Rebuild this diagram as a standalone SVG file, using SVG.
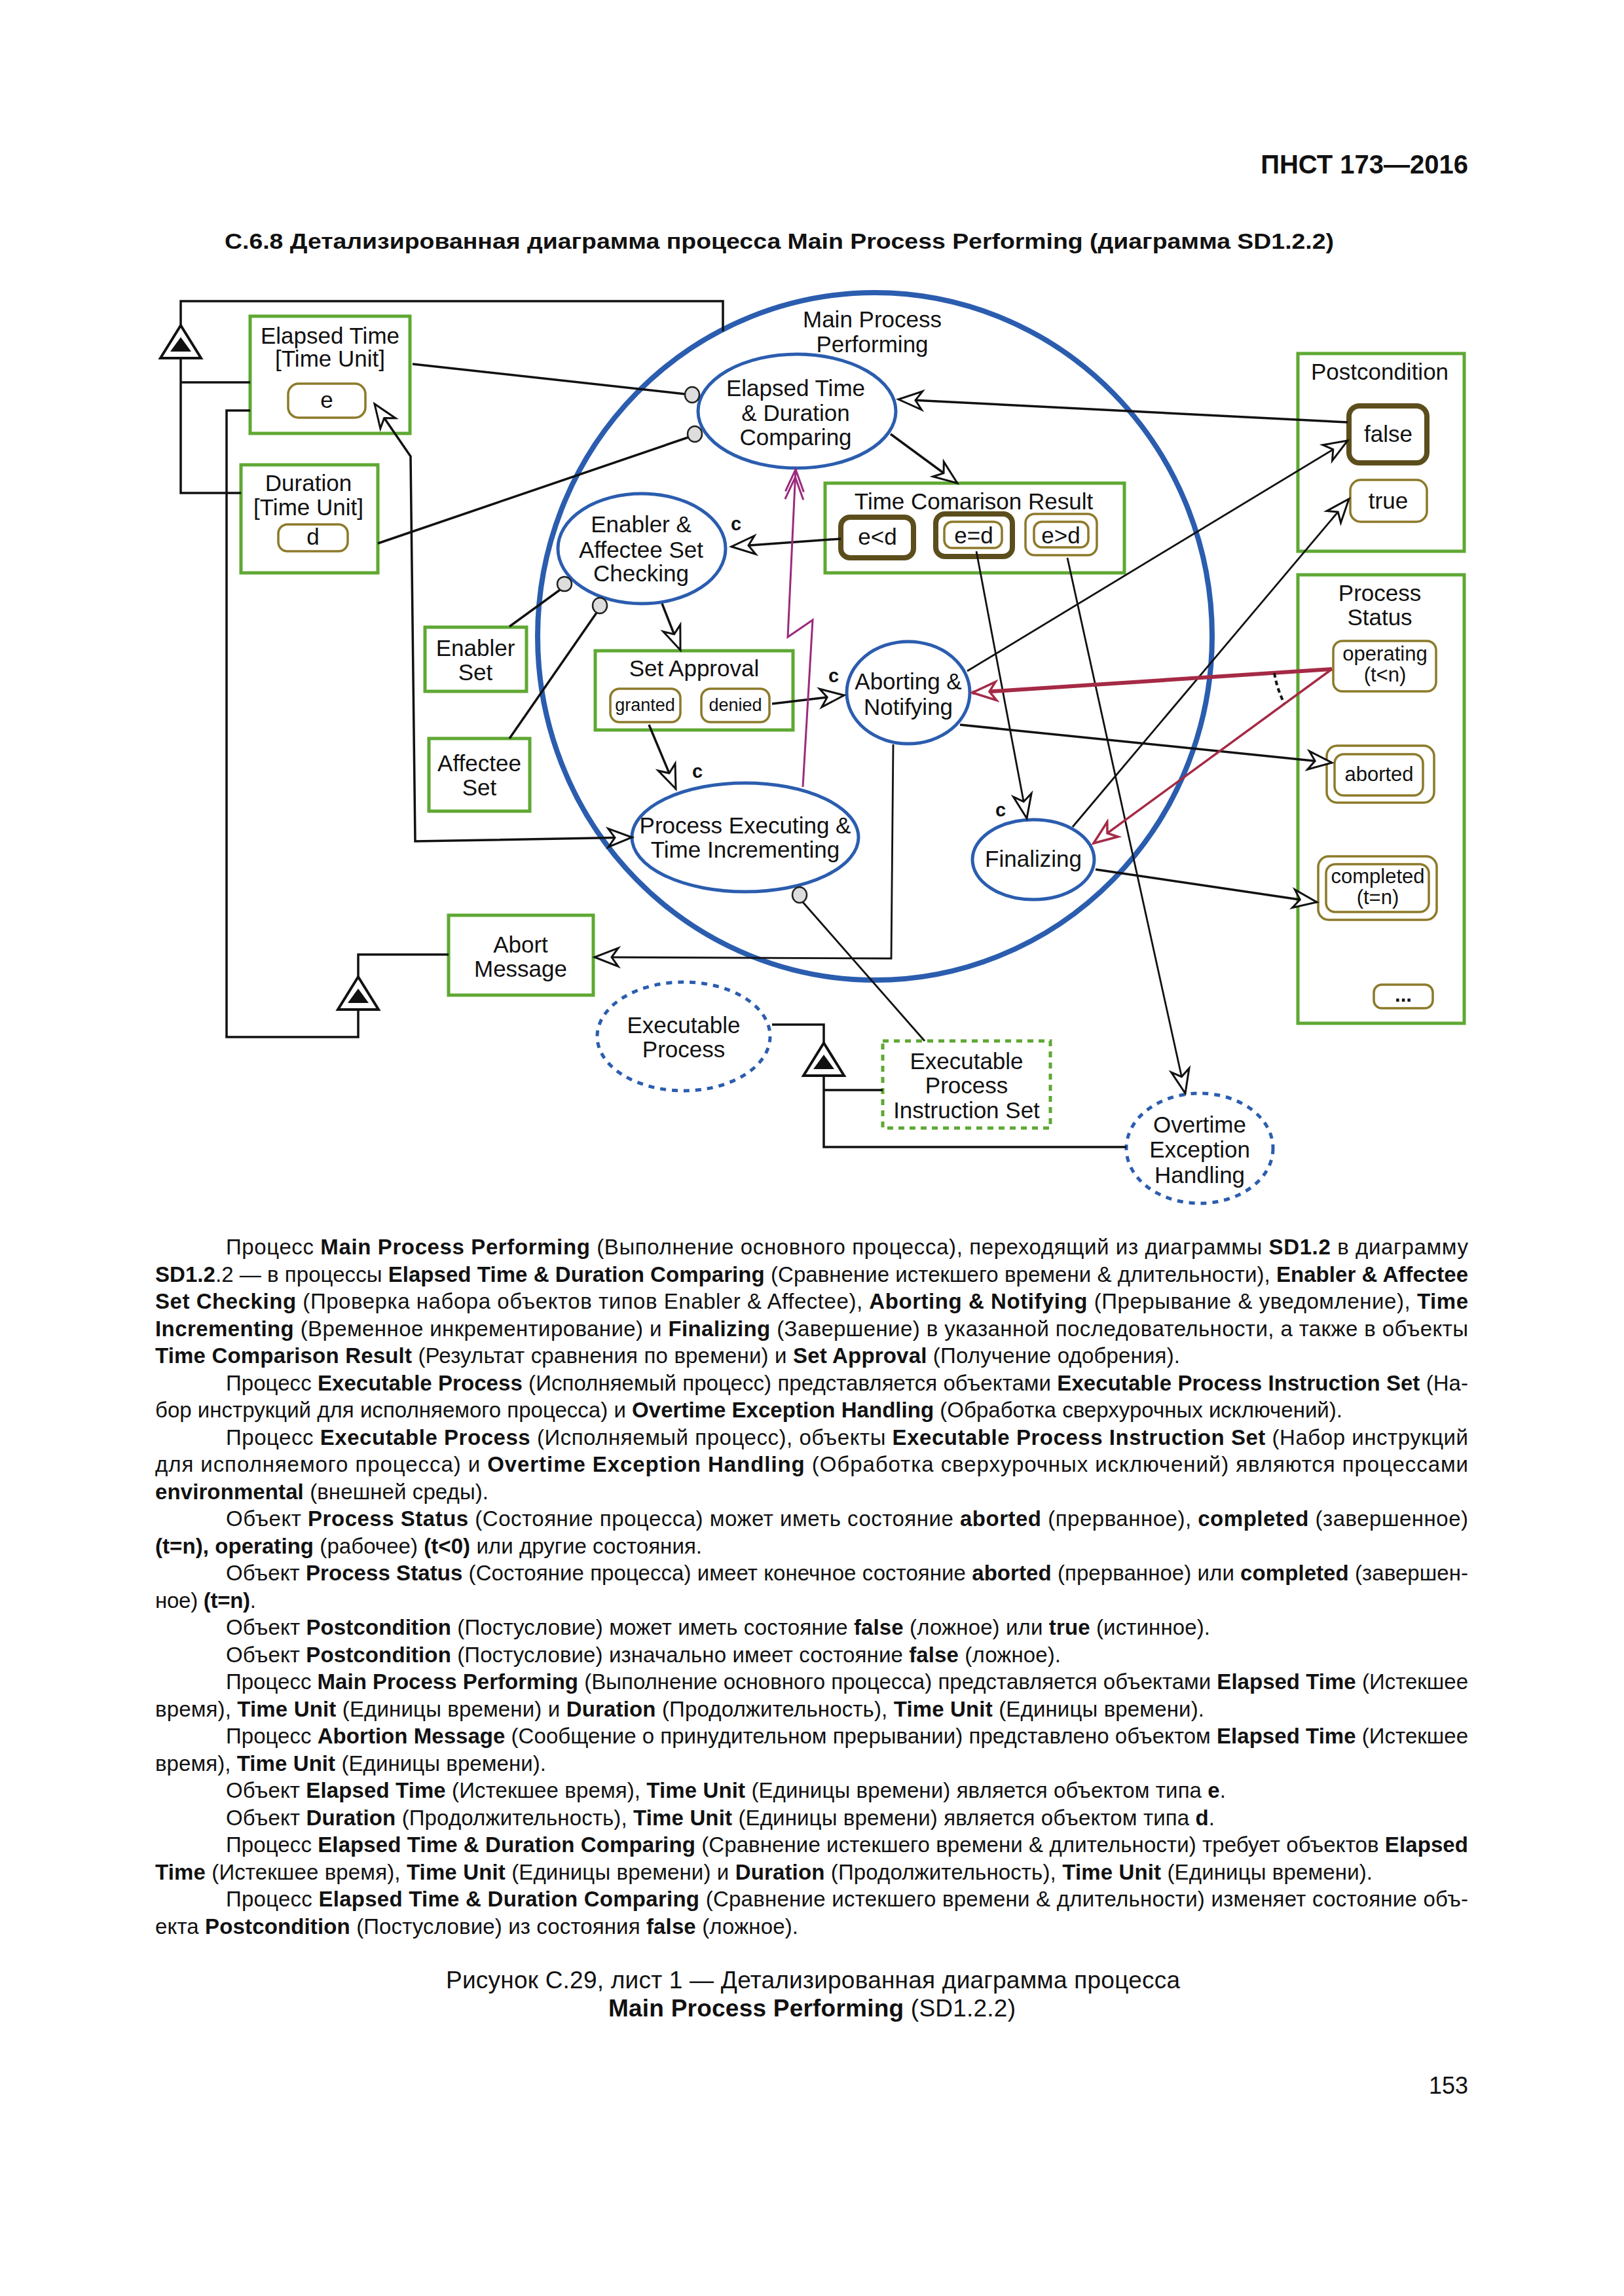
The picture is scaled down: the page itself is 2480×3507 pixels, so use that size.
<svg xmlns="http://www.w3.org/2000/svg" width="2480" height="3507" viewBox="0 0 2480 3507">
<style>
text{font-family:"Liberation Sans",Arial,sans-serif;fill:#111}
.lb{font-size:35px;text-anchor:middle}
.sl{font-size:31px;text-anchor:middle}
.sm{font-size:27px;text-anchor:middle}
.cc{font-size:29px;font-weight:bold;text-anchor:middle}
.b{font-weight:bold}
.body{font-size:33px}
.g{fill:#fff;stroke:#5ea833;stroke-width:5}
.gd{fill:#fff;stroke:#5ea833;stroke-width:5;stroke-dasharray:9 8}
.st{fill:#fff;stroke:#8c7a2a;stroke-width:3.5}
.stk{fill:#fff;stroke:#5c4e1c;stroke-width:8}
.el{fill:#fff;stroke:#2b5daf;stroke-width:5}
.eld{fill:#fff;stroke:#2b5daf;stroke-width:5;stroke-dasharray:9 9}
.ln{fill:none;stroke:#111;stroke-width:3.5}
.lt{fill:none;stroke:#111;stroke-width:2.8}
.cr{fill:none;stroke:#a52a45}
.cn{fill:#ddd;stroke:#222;stroke-width:2.5}
.tri{fill:#fff;stroke:#111;stroke-width:4;stroke-linejoin:miter}
</style>
<defs>
<marker id="ao" viewBox="-40 -20 44 40" refX="0" refY="0" markerWidth="44" markerHeight="40" markerUnits="userSpaceOnUse" orient="auto-start-reverse">
<path d="M0,0 L-36,-14 L-26,0 L-36,14 Z" fill="#fff" stroke="#111" stroke-width="3"/>
</marker>
<marker id="ac" viewBox="-40 -20 44 40" refX="0" refY="0" markerWidth="44" markerHeight="40" markerUnits="userSpaceOnUse" orient="auto">
<path d="M0,0 L-36,-14 L-26,0 L-36,14 Z" fill="#fff" stroke="#a52a45" stroke-width="3.5"/>
</marker>
<marker id="ap" viewBox="-50 -20 54 40" refX="0" refY="0" markerWidth="54" markerHeight="40" markerUnits="userSpaceOnUse" orient="auto">
<path d="M-34,-14 L0,0 L-34,14 M-46,-14 L-12,0 L-46,14" fill="none" stroke="#9b2a7d" stroke-width="3"/>
</marker>
</defs>
<rect width="2480" height="3507" fill="#fff"/>

<g id="header">
<text x="2242" y="265" class="b" font-size="40" text-anchor="end">ПНСТ 173—2016</text>
<text x="343" y="380" class="b" font-size="33" textLength="1694" lengthAdjust="spacingAndGlyphs">С.6.8 Детализированная диаграмма процесса Main Process Performing (диаграмма SD1.2.2)</text>
</g>

<g id="main-process-performing">
<ellipse cx="1336" cy="972" rx="515" ry="525" fill="#fff" stroke="#2b5daf" stroke-width="8"/>
<text class="lb" x="1332" y="500">Main Process</text>
<text class="lb" x="1332" y="538">Performing</text>
</g>

<g id="elapsed-time">
<rect class="g" x="382" y="483" width="244" height="179"/>
<text class="lb" x="504" y="525">Elapsed Time</text>
<text class="lb" x="504" y="560">[Time Unit]</text>
<rect class="st" x="440" y="586" width="118" height="52" rx="16"/>
<text class="lb" x="499" y="623">e</text>
</g>

<g id="duration">
<rect class="g" x="368" y="710" width="209" height="165"/>
<text class="lb" x="471" y="750">Duration</text>
<text class="lb" x="471" y="787">[Time Unit]</text>
<rect class="st" x="425" y="801" width="106" height="41" rx="14"/>
<text class="lb" x="478" y="832">d</text>
</g>

<g id="elapsed-duration-comparing">
<ellipse class="el" cx="1217" cy="628" rx="151" ry="87"/>
<text class="lb" x="1215" y="605">Elapsed Time</text>
<text class="lb" x="1215" y="643">&amp; Duration</text>
<text class="lb" x="1215" y="680">Comparing</text>
</g>

<g id="postcondition">
<rect class="g" x="1982" y="540" width="254" height="302"/>
<text class="lb" x="2107" y="580">Postcondition</text>
<rect class="stk" x="2060" y="620" width="119" height="87" rx="16"/>
<text class="lb" x="2120" y="675" font-size="34">false</text>
<rect class="st" x="2062" y="733" width="117" height="64" rx="16"/>
<text class="lb" x="2120" y="777" font-size="34">true</text>
</g>

<g id="time-comparison-result">
<rect class="g" x="1260" y="738" width="457" height="137"/>
<text class="lb" x="1487" y="778">Time Comarison Result</text>
<rect class="stk" x="1284" y="790" width="111" height="62" rx="14"/>
<text class="lb" x="1340" y="832" font-size="34">e&lt;d</text>
<rect class="stk" x="1429" y="785" width="117" height="65" rx="14"/>
<rect class="st" x="1442" y="797" width="88" height="40" rx="12"/>
<text class="lb" x="1487" y="830" font-size="34">e=d</text>
<rect class="st" x="1566" y="785" width="109" height="63" rx="14"/>
<rect class="st" x="1579" y="797" width="83" height="39" rx="12"/>
<text class="lb" x="1620" y="830" font-size="34">e&gt;d</text>
</g>

<g id="enabler-affectee-checking">
<ellipse class="el" cx="980" cy="838" rx="128" ry="84"/>
<text class="lb" x="979" y="813">Enabler &amp;</text>
<text class="lb" x="979" y="852">Affectee Set</text>
<text class="lb" x="979" y="888">Checking</text>
</g>

<g id="enabler-set">
<rect class="g" x="649" y="958" width="155" height="98"/>
<text class="lb" x="726" y="1002">Enabler</text>
<text class="lb" x="726" y="1039">Set</text>
</g>

<g id="affectee-set">
<rect class="g" x="655" y="1128" width="154" height="111"/>
<text class="lb" x="732" y="1178">Affectee</text>
<text class="lb" x="732" y="1215">Set</text>
</g>

<g id="set-approval">
<rect class="g" x="909" y="994" width="302" height="121"/>
<text class="lb" x="1060" y="1033">Set Approval</text>
<rect class="st" x="932" y="1052" width="107" height="51" rx="14"/>
<text class="sm" x="985" y="1086">granted</text>
<rect class="st" x="1071" y="1052" width="104" height="51" rx="14"/>
<text class="sm" x="1123" y="1086">denied</text>
</g>

<g id="aborting-notifying">
<ellipse class="el" cx="1387" cy="1058" rx="94" ry="78"/>
<text class="lb" x="1387" y="1053">Aborting &amp;</text>
<text class="lb" x="1387" y="1092">Notifying</text>
</g>

<g id="process-executing">
<ellipse class="el" cx="1138" cy="1279" rx="173" ry="83"/>
<text class="lb" x="1138" y="1273">Process Executing &amp;</text>
<text class="lb" x="1138" y="1310">Time Incrementing</text>
</g>

<g id="finalizing">
<ellipse class="el" cx="1578" cy="1313" rx="93" ry="61"/>
<text class="lb" x="1578" y="1324">Finalizing</text>
</g>

<g id="process-status">
<rect class="g" x="1982" y="878" width="254" height="685"/>
<text class="lb" x="2107" y="918">Process</text>
<text class="lb" x="2107" y="955">Status</text>
<rect class="st" x="2036" y="979" width="157" height="77" rx="14"/>
<text class="sl" x="2115" y="1009" font-size="30">operating</text>
<text class="sl" x="2115" y="1041" font-size="30">(t&lt;n)</text>
<rect class="st" x="2026" y="1139" width="164" height="87" rx="16"/>
<rect class="st" x="2038" y="1152" width="135" height="63" rx="14"/>
<text class="sl" x="2106" y="1193">aborted</text>
<rect class="st" x="2013" y="1308" width="181" height="97" rx="16"/>
<rect class="st" x="2025" y="1320" width="157" height="73" rx="14"/>
<text class="sl" x="2104" y="1349">completed</text>
<text class="sl" x="2104" y="1381">(t=n)</text>
<rect class="st" x="2098" y="1504" width="90" height="36" rx="12"/>
<text class="sl b" x="2143" y="1530">...</text>
</g>

<g id="abort-message">
<rect class="g" x="685" y="1398" width="221" height="122"/>
<text class="lb" x="795" y="1455">Abort</text>
<text class="lb" x="795" y="1492">Message</text>
</g>

<g id="executable-process">
<ellipse class="eld" cx="1044" cy="1583" rx="132" ry="83"/>
<text class="lb" x="1044" y="1578">Executable</text>
<text class="lb" x="1044" y="1615">Process</text>
</g>

<g id="executable-process-instruction-set">
<rect class="gd" x="1348" y="1590" width="256" height="133"/>
<text class="lb" x="1476" y="1633">Executable</text>
<text class="lb" x="1476" y="1670">Process</text>
<text class="lb" x="1476" y="1708">Instruction Set</text>
</g>

<g id="overtime-exception-handling">
<ellipse class="eld" cx="1832" cy="1754" rx="112" ry="84"/>
<text class="lb" x="1832" y="1730">Overtime</text>
<text class="lb" x="1832" y="1768">Exception</text>
<text class="lb" x="1832" y="1807">Handling</text>
</g>

<g id="connectors">
<path class="ln" d="M276,497 V460 H1104 V506"/>
<path class="ln" d="M276,547 V753 H368 M276,584 H382"/>
<path class="ln" d="M382,627 H346 V1584 H547 V1542"/>
<path class="ln" d="M547,1492 V1458 H685"/>
<path class="ln" d="M1179,1565 H1258 V1593"/>
<path class="ln" d="M1258,1643 V1752 H1720 M1258,1665 H1348"/>
<path class="ln" d="M630,556 L1047,602"/>
<path class="ln" d="M577,830 L1051,668"/>
<path class="ln" d="M778,957 L855,901"/>
<path class="ln" d="M778,1128 L911,936"/>
<path class="lt" d="M1226,1378 L1412,1590"/>
<path class="ln" d="M572,617 L627,697 L634,1285 L965,1279" marker-start="url(#ao)" marker-end="url(#ao)"/>
<path class="ln" d="M2058,645 L1372,610" marker-end="url(#ao)"/>
<path class="ln" d="M1360,663 L1462,738" marker-end="url(#ao)"/>
<path class="ln" d="M1284,823 L1117,835" marker-end="url(#ao)"/>
<path class="ln" d="M1011,922 L1039,993" marker-end="url(#ao)"/>
<path class="ln" d="M1179,1075 L1289,1062" marker-end="url(#ao)"/>
<path class="ln" d="M991,1107 L1032,1205" marker-end="url(#ao)"/>
<path class="lt" d="M1491,842 L1568,1250" marker-end="url(#ao)"/>
<path class="lt" d="M1630,852 L1810,1670" marker-end="url(#ao)"/>
<path class="lt" d="M1477,1025 L2058,673" marker-end="url(#ao)"/>
<path class="lt" d="M1638,1263 L2060,762" marker-end="url(#ao)"/>
<path class="ln" d="M1466,1107 L2034,1165" marker-end="url(#ao)"/>
<path class="ln" d="M1673,1328 L2011,1378" marker-end="url(#ao)"/>
<path class="lt" d="M1364,1137 L1361,1464 L908,1462" marker-end="url(#ao)"/>
<path d="M1226,1202 L1241,947 L1203,973 L1215,717" fill="none" stroke="#9b2a7d" stroke-width="3" marker-end="url(#ap)"/>
<path class="cr" stroke-width="6" d="M2034,1022 L1485,1058" marker-end="url(#ac)"/>
<path class="cr" stroke-width="3.5" d="M2034,1022 L1670,1288" marker-end="url(#ac)"/>
<path d="M1946,1028 Q1950,1052 1961,1074" fill="none" stroke="#111" stroke-width="4" stroke-dasharray="7 5"/>
<ellipse class="cn" cx="1057" cy="603" rx="11" ry="12"/>
<ellipse class="cn" cx="1061" cy="663" rx="11" ry="12"/>
<ellipse class="cn" cx="862" cy="892" rx="11" ry="11"/>
<ellipse class="cn" cx="916" cy="925" rx="11" ry="12"/>
<ellipse class="cn" cx="1221" cy="1367" rx="11" ry="12"/>
<path class="tri" d="M276,497 L307,547 L245,547 Z"/><path d="M276,515 L292,537 L260,537 Z" fill="#111"/>
<path class="tri" d="M547,1492 L578,1542 L516,1542 Z"/><path d="M547,1510 L563,1532 L531,1532 Z" fill="#111"/>
<path class="tri" d="M1258,1593 L1289,1643 L1227,1643 Z"/><path d="M1258,1611 L1274,1633 L1242,1633 Z" fill="#111"/>
<text class="cc" x="1124" y="810">c</text>
<text class="cc" x="1273" y="1042">c</text>
<text class="cc" x="1065" y="1188">c</text>
<text class="cc" x="1528" y="1247">c</text>
</g>

<g id="body-text" class="body">
<text x="345" y="1916" textLength="1897" lengthAdjust="spacing">Процесс <tspan class="b">Main Process Performing</tspan> (Выполнение основного процесса), переходящий из диаграммы <tspan class="b">SD1.2</tspan> в диаграмму</text>
<text x="237" y="1957.5" textLength="2005" lengthAdjust="spacing"><tspan class="b">SD1.2</tspan>.2 — в процессы <tspan class="b">Elapsed Time &amp; Duration Comparing</tspan> (Сравнение истекшего времени &amp; длительности), <tspan class="b">Enabler &amp; Affectee</tspan></text>
<text x="237" y="1999" textLength="2005" lengthAdjust="spacing"><tspan class="b">Set Checking</tspan> (Проверка набора объектов типов Enabler &amp; Affectee), <tspan class="b">Aborting &amp; Notifying</tspan> (Прерывание &amp; уведомление), <tspan class="b">Time</tspan></text>
<text x="237" y="2040.5" textLength="2005" lengthAdjust="spacing"><tspan class="b">Incrementing</tspan> (Временное инкрементирование) и <tspan class="b">Finalizing</tspan> (Завершение) в указанной последовательности, а также в объекты</text>
<text x="237" y="2082" textLength="1565" lengthAdjust="spacing"><tspan class="b">Time Comparison Result</tspan> (Результат сравнения по времени) и <tspan class="b">Set Approval</tspan> (Получение одобрения).</text>
<text x="345" y="2123.5" textLength="1897" lengthAdjust="spacing">Процесс <tspan class="b">Executable Process</tspan> (Исполняемый процесс) представляется объектами <tspan class="b">Executable Process Instruction Set</tspan> (На-</text>
<text x="237" y="2165" textLength="1813" lengthAdjust="spacing">бор инструкций для исполняемого процесса) и <tspan class="b">Overtime Exception Handling</tspan> (Обработка сверхурочных исключений).</text>
<text x="345" y="2206.5" textLength="1897" lengthAdjust="spacing">Процесс <tspan class="b">Executable Process</tspan> (Исполняемый процесс), объекты <tspan class="b">Executable Process Instruction Set</tspan> (Набор инструкций</text>
<text x="237" y="2248" textLength="2005" lengthAdjust="spacing">для исполняемого процесса) и <tspan class="b">Overtime Exception Handling</tspan> (Обработка сверхурочных исключений) являются процессами</text>
<text x="237" y="2289.5" textLength="509" lengthAdjust="spacing"><tspan class="b">environmental</tspan> (внешней среды).</text>
<text x="345" y="2331" textLength="1897" lengthAdjust="spacing">Объект <tspan class="b">Process Status</tspan> (Состояние процесса) может иметь состояние <tspan class="b">aborted</tspan> (прерванное), <tspan class="b">completed</tspan> (завершенное)</text>
<text x="237" y="2372.5" textLength="835" lengthAdjust="spacing"><tspan class="b">(t=n), operating</tspan> (рабочее) <tspan class="b">(t&lt;0)</tspan> или другие состояния.</text>
<text x="345" y="2414" textLength="1897" lengthAdjust="spacing">Объект <tspan class="b">Process Status</tspan> (Состояние процесса) имеет конечное состояние <tspan class="b">aborted</tspan> (прерванное) или <tspan class="b">completed</tspan> (завершен-</text>
<text x="237" y="2455.5" textLength="154" lengthAdjust="spacing">ное) <tspan class="b">(t=n)</tspan>.</text>
<text x="345" y="2497" textLength="1503" lengthAdjust="spacing">Объект <tspan class="b">Postcondition</tspan> (Постусловие) может иметь состояние <tspan class="b">false</tspan> (ложное) или <tspan class="b">true</tspan> (истинное).</text>
<text x="345" y="2538.5" textLength="1275" lengthAdjust="spacing">Объект <tspan class="b">Postcondition</tspan> (Постусловие) изначально имеет состояние <tspan class="b">false</tspan> (ложное).</text>
<text x="345" y="2580" textLength="1897" lengthAdjust="spacing">Процесс <tspan class="b">Main Process Performing</tspan> (Выполнение основного процесса) представляется объектами <tspan class="b">Elapsed Time</tspan> (Истекшее</text>
<text x="237" y="2621.5" textLength="1602" lengthAdjust="spacing">время), <tspan class="b">Time Unit</tspan> (Единицы времени) и <tspan class="b">Duration</tspan> (Продолжительность), <tspan class="b">Time Unit</tspan> (Единицы времени).</text>
<text x="345" y="2663" textLength="1897" lengthAdjust="spacing">Процесс <tspan class="b">Abortion Message</tspan> (Сообщение о принудительном прерывании) представлено объектом <tspan class="b">Elapsed Time</tspan> (Истекшее</text>
<text x="237" y="2704.5" textLength="597" lengthAdjust="spacing">время), <tspan class="b">Time Unit</tspan> (Единицы времени).</text>
<text x="345" y="2746" textLength="1527" lengthAdjust="spacing">Объект <tspan class="b">Elapsed Time</tspan> (Истекшее время), <tspan class="b">Time Unit</tspan> (Единицы времени) является объектом типа <tspan class="b">e</tspan>.</text>
<text x="345" y="2787.5" textLength="1510" lengthAdjust="spacing">Объект <tspan class="b">Duration</tspan> (Продолжительность), <tspan class="b">Time Unit</tspan> (Единицы времени) является объектом типа <tspan class="b">d</tspan>.</text>
<text x="345" y="2829" textLength="1897" lengthAdjust="spacing">Процесс <tspan class="b">Elapsed Time &amp; Duration Comparing</tspan> (Сравнение истекшего времени &amp; длительности) требует объектов <tspan class="b">Elapsed</tspan></text>
<text x="237" y="2870.5" textLength="1859" lengthAdjust="spacing"><tspan class="b">Time</tspan> (Истекшее время), <tspan class="b">Time Unit</tspan> (Единицы времени) и <tspan class="b">Duration</tspan> (Продолжительность), <tspan class="b">Time Unit</tspan> (Единицы времени).</text>
<text x="345" y="2912" textLength="1897" lengthAdjust="spacing">Процесс <tspan class="b">Elapsed Time &amp; Duration Comparing</tspan> (Сравнение истекшего времени &amp; длительности) изменяет состояние объ-</text>
<text x="237" y="2953.5" textLength="982" lengthAdjust="spacing">екта <tspan class="b">Postcondition</tspan> (Постусловие) из состояния <tspan class="b">false</tspan> (ложное).</text>
</g>

<g id="caption">
<text x="681" y="3037" font-size="37" textLength="1121" lengthAdjust="spacing">Рисунок С.29, лист 1 — Детализированная диаграмма процесса</text>
<text x="929" y="3080" font-size="37" textLength="622" lengthAdjust="spacing"><tspan class="b">Main Process Performing</tspan> (SD1.2.2)</text>
<text x="2242" y="3198" font-size="36" text-anchor="end">153</text>
</g>
</svg>
